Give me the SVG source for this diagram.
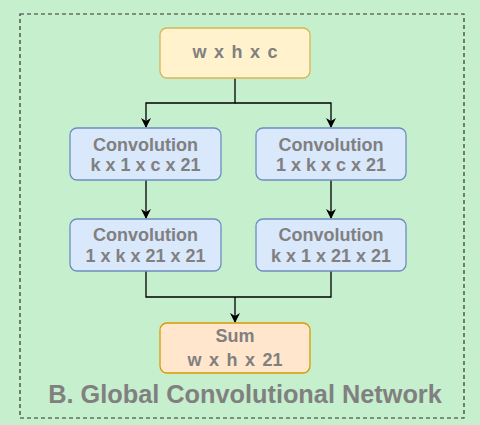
<svg xmlns="http://www.w3.org/2000/svg" width="480" height="425" viewBox="0 0 480 425">
<defs>
<marker id="arr" viewBox="0 0 10 10" refX="9" refY="5" markerWidth="10" markerHeight="10" markerUnits="userSpaceOnUse" orient="auto">
<path d="M0,0 L10,5 L0,10 L3,5 Z" fill="#000"/>
</marker>
</defs>
<style>
text{font-family:"Liberation Sans",Arial,sans-serif;font-weight:bold;fill:#808080;text-anchor:middle}
.t{font-size:18px}
.w{word-spacing:2.5px}
.conv{fill:#dae8fc;stroke:#6c8ebf;stroke-width:1.3}
.edge{fill:none;stroke:#000;stroke-width:1.3}
</style>
<rect width="480" height="425" fill="#c6efce"/>
<rect x="20" y="14" width="444" height="404" fill="none" stroke="#333" stroke-width="1.2" stroke-dasharray="4,3"/>
<g id="connectors">
<path class="edge" d="M235,78 V103 H146 V127" marker-end="url(#arr)"/>
<path class="edge" d="M235,103 H331 V127" marker-end="url(#arr)"/>
<path class="edge" d="M146,180 V218" marker-end="url(#arr)"/>
<path class="edge" d="M331,180 V218" marker-end="url(#arr)"/>
<path class="edge" d="M146,271 V297 H331 V271"/>
<path class="edge" d="M235,297 V322" marker-end="url(#arr)"/>
</g>
<g id="input">
<rect x="160" y="28" width="150" height="50" rx="7" fill="#fff2cc" stroke="#d6b656" stroke-width="1.3"/>
<text class="t w" x="235" y="58">w x h x c</text>
</g>
<g id="conv1">
<rect class="conv" x="70" y="128" width="151" height="52" rx="7"/>
<text class="t" x="145.5" y="151">Convolution</text>
<text class="t" x="145.5" y="170.5">k x 1 x c x 21</text>
</g>
<g id="conv2">
<rect class="conv" x="256" y="128" width="150" height="52" rx="7"/>
<text class="t" x="331" y="151">Convolution</text>
<text class="t" x="331" y="170.5">1 x k x c x 21</text>
</g>
<g id="conv3">
<rect class="conv" x="70" y="219" width="151" height="52" rx="7"/>
<text class="t" x="145.5" y="241">Convolution</text>
<text class="t" x="145.5" y="262">1 x k x 21 x 21</text>
</g>
<g id="conv4">
<rect class="conv" x="256" y="219" width="150" height="52" rx="7"/>
<text class="t" x="331" y="241">Convolution</text>
<text class="t" x="331" y="262">k x 1 x 21 x 21</text>
</g>
<g id="sum">
<rect x="160" y="323" width="150" height="50" rx="7" fill="#ffe6cc" stroke="#d79b00" stroke-width="1.3"/>
<text class="t" x="235" y="342">Sum</text>
<text class="t w" x="235" y="366">w x h x 21</text>
</g>
<text x="245" y="403" style="font-size:25.3px">B. Global Convolutional Network</text>
</svg>
